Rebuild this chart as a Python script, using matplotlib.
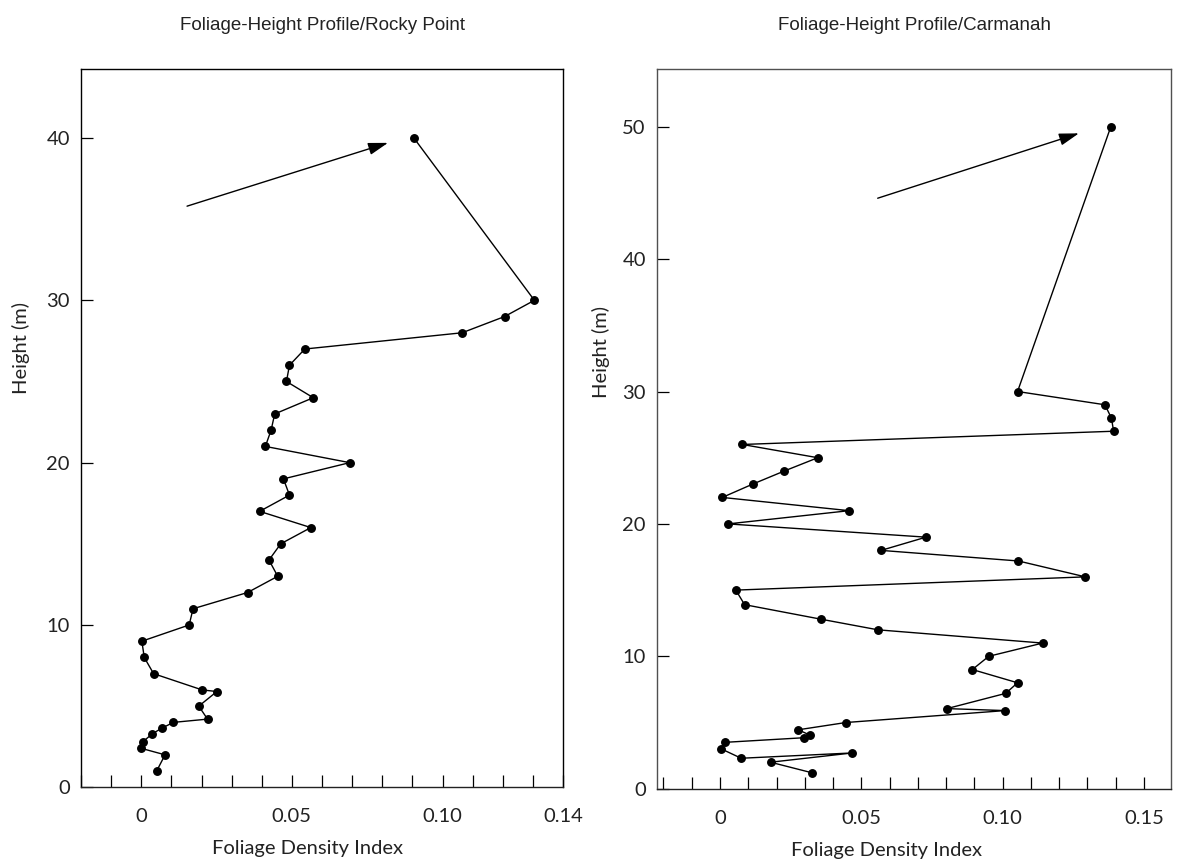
"""
Foliage-height profiles for Rocky Point and Carmanah, side by side.
Saves out.png (1191x865).
"""

import matplotlib
matplotlib.use('Agg')
import matplotlib.pyplot as plt
from matplotlib.ticker import MultipleLocator


# --------------------------------------------------------------------------- #
# Data
# --------------------------------------------------------------------------- #

ROCKY_DENSITY = [0.0905, 0.1305, 0.1206, 0.1065, 0.0543, 0.0492, 0.0482,
                 0.0571, 0.0443, 0.0431, 0.0412, 0.0692, 0.0472, 0.0492,
                 0.0393, 0.0563, 0.0463, 0.0424, 0.0453, 0.0353, 0.0172,
                 0.0159, 0.0002, 0.0010, 0.0041, 0.0202, 0.0251, 0.0191,
                 0.0220, 0.0107, 0.0069, 0.0037, 0.0005, 0.0000, 0.0079,
                 0.0051]
ROCKY_HEIGHT = [40.0, 30.0, 29.0, 28.0, 27.0, 26.0, 25.0, 24.0, 23.0, 22.0,
                21.0, 20.0, 19.0, 18.0, 17.0, 16.0, 15.0, 14.0, 13.0, 12.0,
                11.0, 10.0, 9.0, 8.0, 7.0, 6.0, 5.9, 5.0, 4.2, 4.0, 3.65,
                3.3, 2.8, 2.4, 2.0, 1.0]

CARM_DENSITY = [0.1383, 0.1053, 0.1362, 0.1385, 0.1393, 0.0079, 0.0346,
                0.0228, 0.0115, 0.0008, 0.0457, 0.0028, 0.0729, 0.0570,
                0.1056, 0.1293, 0.0056, 0.0087, 0.0358, 0.0559, 0.1142,
                0.0951, 0.0893, 0.1053, 0.1011, 0.0803, 0.1009, 0.0446,
                0.0277, 0.0318, 0.0297, 0.0016, 0.0005, 0.0075, 0.0468,
                0.0179, 0.0326]
CARM_HEIGHT = [50.0, 30.0, 29.0, 28.0, 27.0, 26.0, 25.0, 24.0, 23.0, 22.0,
               21.0, 20.0, 19.0, 18.0, 17.2, 16.0, 15.0, 13.9, 12.8, 12.0,
               11.0, 10.0, 9.0, 8.0, 7.2, 6.05, 5.9, 5.0, 4.45, 4.05, 3.85,
               3.5, 3.0, 2.3, 2.7, 2.0, 1.2]

# annotation arrows, (x, y) in data units: tail -> head
ROCKY_ARROW = [(0.0152, 35.8), (0.0819, 39.7)]
CARM_ARROW = [(0.0558, 44.6), (0.1270, 49.5)]

ROCKY_XTICKS = [0, 0.05, 0.10, 0.14]
ROCKY_XLABELS = ['0', '0.05', '0.10', '0.14']
CARM_XTICKS = [0, 0.05, 0.10, 0.15]
CARM_XLABELS = ['0', '0.05', '0.10', '0.15']

LABEL_FONT = ['Lato', 'DejaVu Sans']
TITLE_FONT = ['Liberation Sans Narrow', 'Liberation Sans', 'DejaVu Sans']


def draw_panel(ax, x, y, arrow, xticks, xlabels, xlim, ylim, yticks,
               title, spine_color, xlab_x, ylab_x, ylab_y):
    ax.plot(x, y, color='black', lw=1.0, marker='o', ms=5.4,
            mfc='black', mec='black', zorder=3)
    ax.annotate('', xy=arrow[1], xytext=arrow[0],
                arrowprops=dict(arrowstyle='-|>,head_length=0.55,head_width=0.17',
                                color='black', lw=1.0,
                                mutation_scale=22, shrinkA=0, shrinkB=0))

    ax.set_xlim(*xlim)
    ax.set_ylim(*ylim)
    ax.set_xticks(xticks)
    ax.set_xticklabels(xlabels)
    ax.xaxis.set_minor_locator(MultipleLocator(0.01))
    ax.set_yticks(yticks)

    ax.tick_params(axis='x', which='both', direction='in', length=8.5,
                   width=0.9, color='black', pad=15, labelsize=14.5)
    ax.tick_params(axis='y', direction='in', length=8.5, width=0.9,
                   pad=8, labelsize=14.5)
    for lab in ax.get_xticklabels() + ax.get_yticklabels():
        lab.set_family(LABEL_FONT)
        lab.set_color('#222222')

    for s in ax.spines.values():
        s.set_color(spine_color)
        s.set_linewidth(1.0)
    ax.spines['bottom'].set_color('#222222')

    ax.set_xlabel('Foliage Density Index', family=LABEL_FONT, fontsize=14.5,
                  color='#222222')
    ax.xaxis.set_label_coords(xlab_x, -0.074)
    ax.set_ylabel('Height (m)', family=LABEL_FONT, fontsize=14.5,
                  color='#222222')
    ax.yaxis.set_label_coords(ylab_x, ylab_y)

    ax.text(0.5, 1.061, title, transform=ax.transAxes, ha='center',
            va='center', family=TITLE_FONT, fontsize=13.5, color='#222222')


def main():
    fig = plt.figure(figsize=(11.91, 8.65), dpi=100, facecolor='white')
    ax_l = fig.add_axes([81 / 1191, 77.7 / 865, 482 / 1191, 718.3 / 865])
    ax_r = fig.add_axes([657 / 1191, 76.3 / 865, 514 / 1191, 719.7 / 865])

    draw_panel(ax_l, ROCKY_DENSITY, ROCKY_HEIGHT, ROCKY_ARROW,
               ROCKY_XTICKS, ROCKY_XLABELS, (-0.02, 0.14), (0, 44.25),
               [0, 10, 20, 30, 40], 'Foliage-Height Profile/Rocky Point',
               'black', 0.469, -0.106, 0.611)
    draw_panel(ax_r, CARM_DENSITY, CARM_HEIGHT, CARM_ARROW,
               CARM_XTICKS, CARM_XLABELS, (-0.0223, 0.1596), (0, 54.36),
               [0, 10, 20, 30, 40, 50], 'Foliage-Height Profile/Carmanah',
               '#505050', 0.447, -0.091, 0.607)

    fig.savefig('out.png', dpi=100, facecolor='white')


if __name__ == '__main__':
    main()
